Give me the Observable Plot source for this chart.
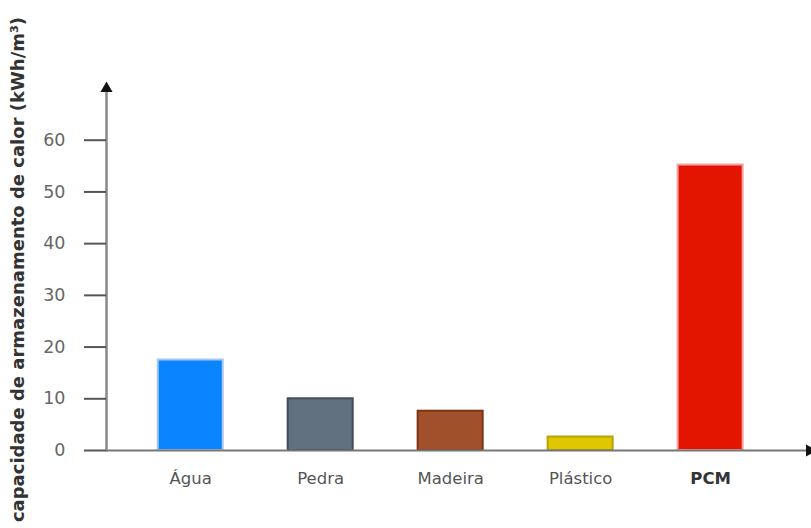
<!DOCTYPE html>
<html>
<head>
<meta charset="utf-8">
<script src="https://cdn.jsdelivr.net/npm/d3@7"></script>
<script src="https://cdn.jsdelivr.net/npm/@observablehq/plot@0.6"></script>
<style>
  html, body { margin: 0; padding: 0; background: #fff; }
</style>
</head>
<body>
<div id="chart"></div>
<script>
const categories = ["Água", "Pedra", "Madeira", "Plástico", "PCM"];
const values = [17.5, 10.0, 7.6, 2.6, 55.2];
const fills = ["#0a84ff", "#62717f", "#a0512c", "#e0c800", "#e41500"];
const strokes = ["#a9c6ee", "#3f4e5c", "#7d3414", "#b9a300", "#f0a0a0"];
const yTicks = [0, 10, 20, 30, 40, 50, 60];
const yTitle = "capacidade de armazenamento de calor (kWh/m³)";

const data = categories.map((c, i) => ({cat: c, value: values[i], fill: fills[i], stroke: strokes[i]}));

const chart = Plot.plot({
  width: 811,
  height: 528,
  marginLeft: 106,
  marginRight: 0,
  marginTop: 88,
  marginBottom: 78,
  style: {fontFamily: "DejaVu Sans, Verdana, sans-serif", background: "#fff"},
  x: {domain: categories, paddingInner: 0.492, paddingOuter: 0.458, align: 0.43, round: false, axis: null},
  y: {domain: [0, 70], axis: null},
  marks: [
    Plot.barY(data, {x: "cat", y: "value", fill: "fill", stroke: "stroke", strokeWidth: 2, insetLeft: 0.5, insetRight: 0.5}),
    Plot.ruleY([0], {stroke: "#777", strokeWidth: 2}),
    Plot.frame({anchor: "left", stroke: "#888", strokeWidth: 2.5}),
    Plot.axisY(yTicks, {anchor: "left", tickSize: 22, tickPadding: 19, fontSize: 17.5, fill: "#666", stroke: "#555", strokeWidth: 2, label: null}),
    Plot.axisX(categories.filter(c => c !== "PCM"), {anchor: "bottom", tickSize: 0, tickPadding: 22, fontSize: 16.5, fill: "#555", label: null}),
    Plot.axisX(["PCM"], {anchor: "bottom", tickSize: 0, tickPadding: 22, fontSize: 16.5, fill: "#333", fontWeight: "bold", label: null}),
    Plot.dot([0], {frameAnchor: "top-left", symbol: "triangle", r: 4.5, fill: "#111", stroke: null}),
    Plot.dot([0], {frameAnchor: "bottom-right", symbol: "triangle", rotate: 90, r: 4.5, fill: "#111", stroke: null, dx: -2}),
    Plot.text([yTitle], {frameAnchor: "left", rotate: -90, dx: -88, dy: 0, fontSize: 18, fontWeight: "bold", fill: "#333", textAnchor: "middle"})
  ]
});
document.getElementById("chart").appendChild(chart);
</script>
</body>
</html>
